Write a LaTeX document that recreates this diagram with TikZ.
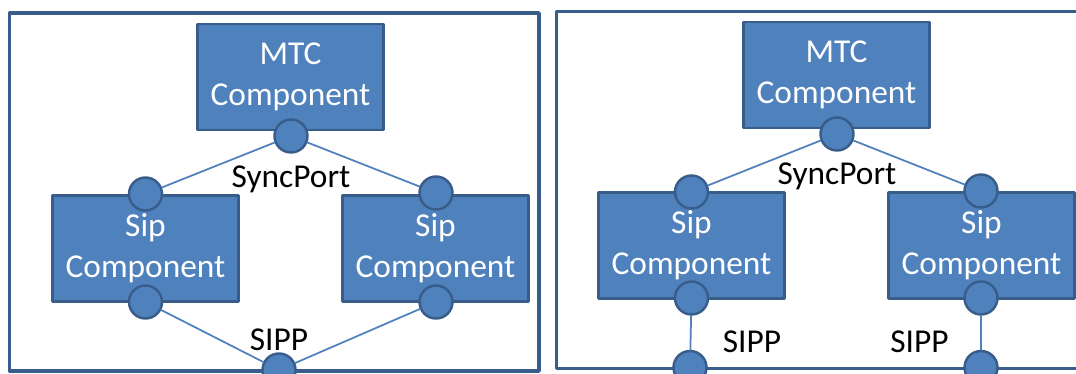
\documentclass[tikz,border=0pt]{standalone}
\usepackage{fontspec}
\setmainfont{Carlito}
\definecolor{boxblue}{RGB}{79,129,189}
\definecolor{edgeblue}{RGB}{56,93,138}
\begin{document}
\begin{tikzpicture}[x=0.02cm, y=-0.02cm, line join=round, line cap=round, font=\fontsize{19}{23.5}\selectfont,
	comp/.style={draw=edgeblue, line width=1.4pt, fill=boxblue, text=white, align=center, minimum width=3.72cm, minimum height=2.12cm, inner sep=0pt},
	port/.style={circle, draw=edgeblue, line width=1.4pt, fill=boxblue, minimum size=0.66cm, inner sep=0pt},
	link/.style={draw=boxblue, line width=1pt},
	frame/.style={draw=edgeblue, line width=2pt}]
	\useasboundingbox (0,0) rectangle (1076,374);
	\draw[frame] (9.6,13) rectangle (539,371);
	\draw[frame] (556.4,11.3) rectangle (1090,368.5);
	\node[comp] (mtcA) at (290.5,77) {MTC\\Component};
	\node[comp] (sipAl) at (145.5,248.5) {Sip\\Component};
	\node[comp] (sipAr) at (435.5,248.5) {Sip\\Component};
	\node[comp] (mtcB) at (836.5,75) {MTC\\Component};
	\node[comp] (sipBl) at (691.5,245.5) {Sip\\Component};
	\node[comp] (sipBr) at (981.5,245.5) {Sip\\Component};
	\node[port] (syncA) at (291,136) {};
	\node[port] (syncAl) at (145.5,194) {};
	\node[port] (syncAr) at (436,193) {};
	\node[port] (sippAl) at (145.5,302) {};
	\node[port] (sippAr) at (436,302) {};
	\node[port] (sippA) at (279,370) {};
	\node[port] (syncB) at (837,134) {};
	\node[port] (syncBl) at (691.5,192) {};
	\node[port] (syncBr) at (981,191) {};
	\node[port] (sippBl) at (691.5,298) {};
	\node[port] (sippBr) at (981,298) {};
	\node[port] (sippBlo) at (690,367.5) {};
	\node[port] (sippBro) at (981,367.5) {};
	\draw[link] (syncA)--(syncAl) (syncA)--(syncAr)
		(sippAl)--(sippA) (sippAr)--(sippA)
		(syncB)--(syncBl) (syncB)--(syncBr)
		(sippBl)--(sippBlo) (sippBr)--(sippBro);
	\node (lblSyncA) at (291,179) {SyncPort};
	\node (lblSippA) at (279,340) {SIPP};
	\node (lblSyncB) at (837,176) {SyncPort};
	\node (lblSippBl) at (752,342) {SIPP};
	\node (lblSippBr) at (919.5,342) {SIPP};
\end{tikzpicture}
\end{document}
